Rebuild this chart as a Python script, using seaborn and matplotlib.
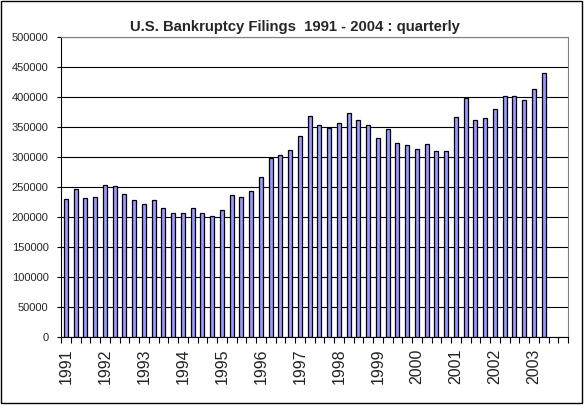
import matplotlib
matplotlib.use("Agg")
import matplotlib.pyplot as plt
import matplotlib.patches as mpatches
import seaborn as sns
import pandas as pd
import numpy as np

years = [str(y) for y in range(1991, 2004)]
quarters = ["Q1", "Q2", "Q3", "Q4"]
filings = [230000, 246000, 232000, 234000, 253000, 251000, 238000, 229000, 222000, 229000,
           215000, 207000, 207000, 215000, 207000, 202000, 212000, 236000, 234000, 244000,
           267000, 298000, 303000, 312000, 335000, 368000, 353000, 348000, 356000, 373000,
           362000, 353000, 332000, 347000, 323000, 320000, 313000, 322000, 310000, 310000,
           367000, 399000, 361000, 365000, 380000, 402000, 402000, 395000, 413000, 440000]
y_ticks = list(range(0, 500001, 50000))

categories = [f"{y}{q}" for y in years for q in quarters]
vals = filings + [np.nan] * (len(categories) - len(filings))
df = pd.DataFrame({"quarter": categories, "filings": vals})

sns.set_style("white")
plt.rcParams["font.family"] = ["Liberation Sans", "DejaVu Sans"]

W, H = 584, 405
fig = plt.figure(figsize=(W / 100, H / 100), dpi=100)
ax = fig.add_axes([61 / W, 1 - 337 / H, (568 - 61) / W, (337 - 37) / H])

sns.barplot(data=df, x="quarter", y="filings", order=categories, color="#9999FF",
            saturation=1, width=0.42, edgecolor="black", linewidth=0.9, ax=ax, errorbar=None)

ax.set_xlim(-0.5, len(categories) - 0.5)
ax.set_ylim(0, 500000)
ax.set_yticks(y_ticks)
ax.set_yticklabels([str(v) for v in y_ticks], fontsize=8)
ax.yaxis.grid(True, color="black", linewidth=0.8)
ax.set_axisbelow(True)

ax.set_xticks(range(len(categories)))
ax.set_xticklabels([c[:4] if c.endswith("Q1") else "" for c in categories],
                   rotation=90, fontsize=11.5, va="top", ha="center", color="#222222")
ax.set_xticks(np.arange(-0.5, len(categories), 1.0), minor=True)
ax.tick_params(axis="x", which="major", length=0, pad=8.5)
ax.tick_params(axis="x", which="minor", length=4, width=0.8, color="black", direction="out", bottom=True)
ax.tick_params(axis="y", length=3, width=0.8, color="black", direction="out", left=True, pad=6)
ax.set_xlabel("")
ax.set_ylabel("")

for s in ["left", "bottom"]:
    ax.spines[s].set_color("black")
    ax.spines[s].set_linewidth(0.8)
for s in ["top", "right"]:
    ax.spines[s].set_color("#808080")
    ax.spines[s].set_linewidth(0.8)

fig.text(295 / W, 1 - 27 / H, "U.S. Bankruptcy Filings  1991 - 2004 : quarterly",
         ha="center", va="center", fontsize=10.7, fontweight="bold")

fig.patches.append(mpatches.Rectangle((0.5 / W, 1 - 402.5 / H), 581 / W, 402 / H,
                                      transform=fig.transFigure, fill=False,
                                      edgecolor="black", linewidth=1.0))

fig.savefig("out.png", dpi=100, facecolor="white")
